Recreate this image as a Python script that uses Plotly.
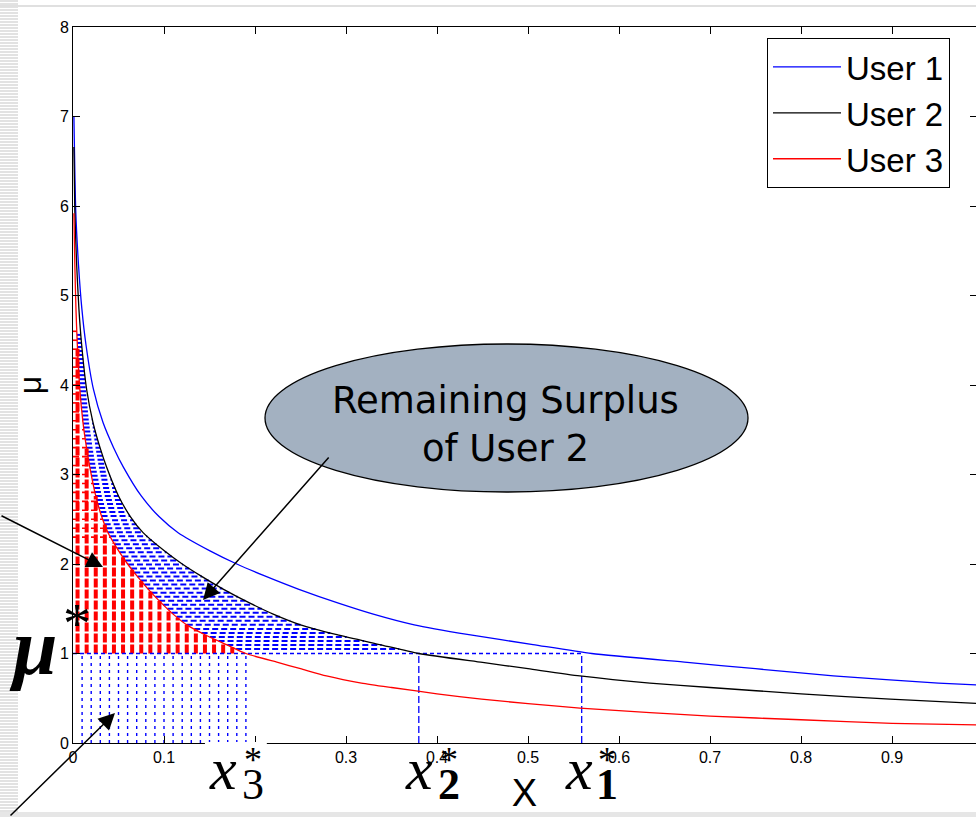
import numpy as np
import plotly.graph_objects as go

# ---------------- data ----------------
user1_x = [0.001, 0.003, 0.006, 0.00975, 0.01425, 0.0225, 0.033, 0.0446, 0.0555, 0.075, 0.0945,
           0.1155, 0.15, 0.18, 0.21, 0.2475, 0.2925, 0.33, 0.375, 0.435, 0.5055, 0.57, 0.675,
           0.75, 0.8355, 0.951, 1.05]
user1_mu = [7.0, 5.95, 5.35, 4.85, 4.45, 3.95, 3.58, 3.3, 3.08, 2.76, 2.53,
            2.35, 2.15, 2.0, 1.87, 1.72, 1.56, 1.44, 1.32, 1.21, 1.1, 1.0, 0.9,
            0.83, 0.75, 0.67, 0.62]

user2_x = [0.001, 0.002, 0.004, 0.0065, 0.0095, 0.015, 0.022, 0.0297, 0.037, 0.05, 0.063, 0.077,
           0.1, 0.12, 0.14, 0.165, 0.195, 0.22, 0.25, 0.29, 0.337, 0.38, 0.45, 0.5, 0.557, 0.634,
           0.7, 0.8, 0.898, 1.0]
user2_mu = [6.66, 5.95, 5.35, 4.85, 4.45, 3.95, 3.58, 3.3, 3.08, 2.76, 2.53, 2.35,
            2.15, 2.0, 1.87, 1.72, 1.56, 1.44, 1.32, 1.21, 1.1, 1.0, 0.9, 0.83, 0.75, 0.67,
            0.62, 0.55, 0.49, 0.44]

user3_x = [0.001, 0.002, 0.00325, 0.00475, 0.0075, 0.011, 0.01485, 0.0185, 0.025, 0.0315, 0.0385,
           0.05, 0.06, 0.07, 0.0825, 0.0975, 0.11, 0.125, 0.145, 0.1685, 0.19, 0.225, 0.25,
           0.2785, 0.317, 0.35, 0.4, 0.449, 0.5, 0.557, 0.634, 0.7, 0.8, 0.9, 1.0]
user3_mu = [5.92, 5.35, 4.85, 4.45, 3.95, 3.58, 3.3, 3.08, 2.76, 2.53, 2.35,
            2.15, 2.0, 1.87, 1.72, 1.56, 1.44, 1.32, 1.21, 1.1, 1.0, 0.9, 0.83,
            0.75, 0.67, 0.62, 0.55, 0.49, 0.44, 0.39, 0.34, 0.30, 0.26, 0.22, 0.20]

user_names = ["User 1", "User 2", "User 3"]
user_colors = ["#0000ff", "#000000", "#ff0000"]

mu_star = 1.0
x_star = [0.559, 0.38, 0.187]          # x1*, x2*, x3*

x_ticks = [0, 0.1, 0.2, 0.3, 0.4, 0.5, 0.6, 0.7, 0.8, 0.9]
x_tick_labels = ["0", "0.1", "0.2", "0.3", "0.4", "0.5", "0.6", "0.7", "0.8", "0.9"]
y_ticks = [0, 1, 2, 3, 4, 5, 6, 7, 8]
y_tick_labels = ["0", "1", "2", "3", "4", "5", "6", "7", "8"]

# ---------------- layout constants ----------------
W, H = 976, 817
ML, MR, MT, MB = 73, 0, 27, 74
PX_PER_X = 910.0                       # the axis is cropped on the right side
XMAX = (W - ML - MR) / PX_PER_X
PX_PER_Y = (H - MT - MB) / 8.0


def pxx(p):  # pixel -> paper x
    return (p - ML) / (W - ML - MR)


def pxy(p):  # pixel -> paper y
    return (H - MB - p) / (H - MT - MB)


def curve_at(xs, ms, x):
    return float(np.interp(x, xs, ms))


def curve_inv(xs, ms, m):
    return float(np.interp(m, ms[::-1], xs[::-1]))


def segments(pairs):
    xs, ys = [], []
    for xa, ya, xb, yb in pairs:
        xs += [xa, xb, None]
        ys += [ya, yb, None]
    return xs, ys


fig = go.Figure()

x1s, x2s, x3s = x_star

# ---- blue dotted verticals under mu* (x in [0, x3*]) ----
blue_vx = np.arange(0.01, x3s + 0.004, 0.01)
xs, ys = segments([(v, 0, v, mu_star) for v in blue_vx])
fig.add_trace(go.Scatter(x=xs, y=ys, mode="lines", showlegend=False, hoverinfo="skip",
                         line=dict(color="#0000ff", width=1.4, dash="3px,4px")))

# ---- blue dashed horizontal hatch between user 3 and user 2 curves ----
blue_levels = np.arange(1.05, 4.6, 0.045)
pairs = []
for m in blue_levels:
    xa = curve_inv(user3_x, user3_mu, m)
    xb = curve_inv(user2_x, user2_mu, m)
    if xb > xa:
        pairs.append((xa, m, xb, m))
xs, ys = segments(pairs)
fig.add_trace(go.Scatter(x=xs, y=ys, mode="lines", showlegend=False, hoverinfo="skip",
                         line=dict(color="#0000ff", width=2, dash="6px,3px")))

# ---- red hatch: area between mu* and user 3 curve ----
red_vx = np.arange(0.005, x3s - 0.005, 0.01)
xs, ys = segments([(v, mu_star, v, curve_at(user3_x, user3_mu, v)) for v in red_vx])
fig.add_trace(go.Scatter(x=xs, y=ys, mode="lines", showlegend=False, hoverinfo="skip",
                         line=dict(color="#ff0000", width=4, dash="9px,2px")))
red_levels = np.arange(2.3, 4.65, 0.1)
xs, ys = segments([(0, m, curve_inv(user3_x, user3_mu, m), m) for m in red_levels])
fig.add_trace(go.Scatter(x=xs, y=ys, mode="lines", showlegend=False, hoverinfo="skip",
                         line=dict(color="#ff0000", width=1.6, dash="6px,3px")))

# ---- mu* line and x* droplines ----
fig.add_trace(go.Scatter(x=[0, x1s], y=[mu_star, mu_star], mode="lines", showlegend=False,
                         hoverinfo="skip", line=dict(color="#0000ff", width=1.3, dash="4px,3px")))
xs, ys = segments([(x1s, 0, x1s, mu_star), (x2s, 0, x2s, mu_star)])
fig.add_trace(go.Scatter(x=xs, y=ys, mode="lines", showlegend=False, hoverinfo="skip",
                         line=dict(color="#0000ff", width=1.3, dash="7px,3px")))

# ---- the three user curves ----
for xs_, ms_, nm, col in zip([user1_x, user2_x, user3_x], [user1_mu, user2_mu, user3_mu],
                             user_names, user_colors):
    fig.add_trace(go.Scatter(x=xs_, y=ms_, mode="lines", name=nm,
                             line=dict(color=col, width=1.3, shape="spline", smoothing=0.6)))

# invisible trace so the right-hand tick axis is drawn
fig.add_trace(go.Scatter(x=[None], y=[None], yaxis="y2", showlegend=False, hoverinfo="skip"))

# ---------------- decorations ----------------
shapes = []
# slide border stripes on the left
path = " ".join(f"M{pxx(0):.5f},{pxy(p):.5f} L{pxx(18):.5f},{pxy(p):.5f}" for p in range(1, H, 3))
shapes.append(dict(type="path", xref="paper", yref="paper", path=path,
                   line=dict(color="#d9d9d9", width=1.5), layer="below"))
shapes.append(dict(type="line", xref="paper", yref="paper", x0=pxx(0), x1=pxx(W), y0=pxy(6), y1=pxy(6),
                   line=dict(color="#e0e0e0", width=2), layer="below"))
shapes.append(dict(type="rect", xref="paper", yref="paper", x0=pxx(0), x1=pxx(W), y0=pxy(812), y1=pxy(H),
                   fillcolor="#e6e6e6", line=dict(width=0), layer="below"))
# white patch behind x3* label (covers axis line there)
shapes.append(dict(type="rect", xref="x", yref="paper", x0=x3s - 0.042, x1=x3s + 0.026,
                   y0=pxy(802), y1=pxy(742), fillcolor="white", line=dict(width=0), layer="above"))
# ellipse callout
shapes.append(dict(type="circle", xref="paper", yref="paper", x0=pxx(265), x1=pxx(748),
                   y0=pxy(492), y1=pxy(344), fillcolor="#a3b1c1", line=dict(color="black", width=1.3),
                   layer="above"))

serif = "Liberation Serif"
ann = []
ann.append(dict(xref="paper", yref="paper", x=pxx(505), y=pxy(424), showarrow=False,
                text="Remaining Surplus<br>of User 2", align="center",
                font=dict(family="DejaVu Sans", size=37, color="black")))
# arrows
arrow = dict(showarrow=True, arrowhead=2, arrowsize=2.2, arrowwidth=1.5, arrowcolor="black", text="")
ann.append(dict(xref="x", yref="y", x=(203 - ML) / PX_PER_X, y=(H - MB - 600) / PX_PER_Y,
                ax=127, ay=-144, **arrow))
ann.append(dict(xref="x", yref="y", x=(103 - ML) / PX_PER_X, y=(H - MB - 567) / PX_PER_Y,
                ax=-104, ay=-52, **arrow))
ann.append(dict(xref="x", yref="y", x=(115 - ML) / PX_PER_X, y=(H - MB - 713) / PX_PER_Y,
                ax=-106, ay=106, **arrow))
# mu* label
ann.append(dict(xref="paper", yref="y", x=pxx(7), y=mu_star, yshift=7, showarrow=False,
                text="<b><i>μ</i></b>", font=dict(family=serif, size=80, color="black")))
ann.append(dict(xref="paper", yref="y", x=pxx(61), y=mu_star, yshift=30, showarrow=False,
                text="*", font=dict(family=serif, size=56, color="black")))
# x* labels
subs = ["<b>1</b>", "<b>2</b>", "3"]
x_off = [-3, 0, -20]
s_off = [28, 30, 30]
for xs_, sb, xo, so in zip(x_star, subs, x_off, s_off):
    ann.append(dict(xref="x", yref="paper", x=xs_, xshift=xo, y=pxy(804), showarrow=False,
                    text="<i>x</i>", font=dict(family=serif, size=60, color="black")))
    ann.append(dict(xref="x", yref="paper", x=xs_, xshift=xo + so, y=pxy(811), showarrow=False,
                    text=sb, font=dict(family=serif, size=44, color="black")))
    ann.append(dict(xref="x", yref="paper", x=xs_, xshift=xo + so, y=pxy(782), showarrow=False,
                    text="*", font=dict(family=serif, size=36, color="black")))

fig.update_layout(
    width=W, height=H,
    margin=dict(l=ML, r=MR, t=MT, b=MB, pad=0),
    paper_bgcolor="white", plot_bgcolor="white",
    shapes=shapes, annotations=ann,
    showlegend=True,
    legend=dict(x=pxx(767), y=pxy(38), xanchor="left", yanchor="top",
                bgcolor="white", bordercolor="black", borderwidth=1,
                font=dict(family="Liberation Sans", size=33, color="black"),
                itemwidth=68, tracegroupgap=0, entrywidth=128, entrywidthmode="pixels"),
    xaxis=dict(range=[0, XMAX], tickvals=x_ticks, ticktext=x_tick_labels, ticks="inside",
               ticklen=7, tickcolor="black", showline=True, linecolor="black", linewidth=1,
               mirror="ticks", showgrid=False, zeroline=False, automargin=False,
               tickfont=dict(family="Liberation Sans", size=16, color="black"),
               title=dict(text="X", font=dict(family="Liberation Sans", size=38, color="black"),
                          standoff=14)),
    yaxis=dict(range=[0, 8], tickvals=y_ticks, ticktext=y_tick_labels, ticks="inside", ticklen=7,
               tickcolor="black", showline=True, linecolor="black", linewidth=1,
               showgrid=False, zeroline=False, automargin=False,
               tickfont=dict(family="Liberation Sans", size=16, color="black"),
               title=dict(text="μ", font=dict(family="Liberation Sans", size=32, color="black"),
                          standoff=8)),
    yaxis2=dict(range=[0, 8], tickvals=y_ticks, overlaying="y", side="right", anchor="x",
                ticks="inside", ticklen=6, tickcolor="black", showticklabels=False,
                showline=False, showgrid=False, zeroline=False),
)

fig.write_html("out.html")
